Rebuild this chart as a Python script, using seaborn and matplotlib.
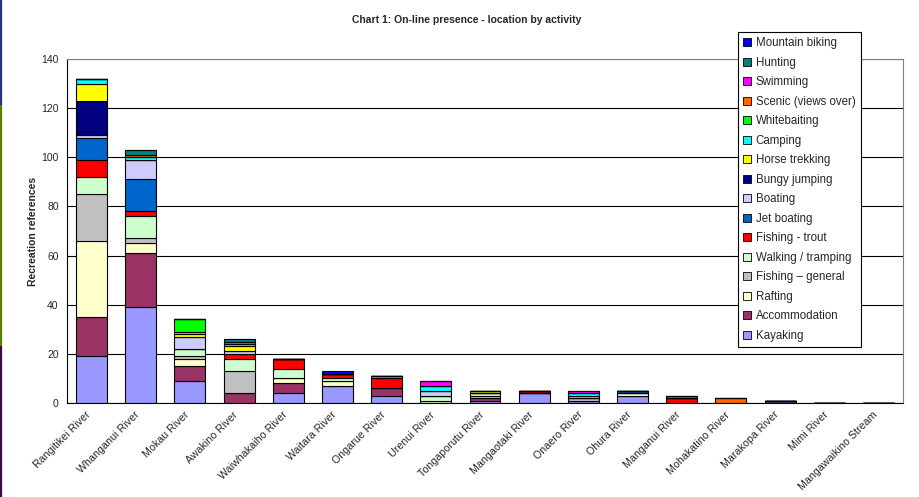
import numpy as np
import pandas as pd
import seaborn as sns
import matplotlib.pyplot as plt
import matplotlib.transforms as mtransforms
from matplotlib.patches import Patch
from matplotlib.lines import Line2D

# rivers in chart order
rivers = ["Rangitikei River", "Whanganui River", "Mokau River", "Awakino River",
          "Waiwhakaiho River", "Waitara River", "Ongarue River", "Urenui River",
          "Tongaporutu River", "Mangaotaki River", "Onaero River", "Ohura River",
          "Manganui River", "Mohakatino River", "Marakopa River", "Mimi River",
          "Mangawaikino Stream"]

# counts per activity (bottom of stack first)
kayaking        = [19, 39, 9, 0, 4, 7, 3, 0, 1, 4, 1, 3, 0, 0, 1, 0, 0]
accommodation   = [16, 22, 6, 4, 4, 0, 3, 0, 1, 0, 0, 0, 0, 0, 0, 0, 0]
rafting         = [31, 4, 3, 0, 2, 2, 0, 1, 0, 0, 0, 1, 0, 0, 0, 0, 0]
fishing_general = [19, 2, 1, 9, 0, 0, 0, 0, 1, 0, 1, 0, 0, 0, 0, 0, 0]
walking         = [7, 9, 3, 5, 4, 1, 0, 2, 1, 0, 0, 0, 0, 0, 0, 0, 0]
fishing_trout   = [7, 2, 0, 2, 4, 2, 4, 0, 0, 1, 0, 0, 2, 0, 0, 0, 0]
jet_boating     = [9, 13, 0, 0, 0, 0, 0, 0, 0, 0, 0, 1, 0, 0, 0, 0, 0]
boating         = [1, 8, 5, 1, 0, 0, 1, 2, 0, 0, 1, 0, 0, 0, 0, 0, 0]
bungy_jumping   = [14, 0, 0, 0, 0, 0, 0, 0, 0, 0, 0, 0, 0, 0, 0, 0, 0]
horse_trekking  = [7, 0, 1, 2, 0, 0, 0, 0, 1, 0, 0, 0, 0, 0, 0, 0, 0]
camping         = [2, 1, 1, 1, 0, 0, 0, 2, 0, 0, 1, 0, 0, 0, 0, 0, 0]
whitebaiting    = [0, 0, 5, 0, 0, 0, 0, 0, 0, 0, 0, 0, 0, 0, 0, 0, 0]
scenic          = [0, 1, 0, 1, 0, 0, 0, 0, 0, 0, 0, 0, 0, 2, 0, 0, 0]
swimming        = [0, 0, 0, 0, 0, 0, 0, 2, 0, 0, 1, 0, 1, 0, 0, 0, 0]
hunting         = [0, 2, 0, 1, 0, 0, 0, 0, 0, 0, 0, 0, 0, 0, 0, 0, 0]
mountain_biking = [0, 0, 0, 0, 0, 1, 0, 0, 0, 0, 0, 0, 0, 0, 0, 0, 0]

activities = ["Kayaking", "Accommodation", "Rafting", "Fishing \u2013 general",
              "Walking / tramping", "Fishing - trout", "Jet boating", "Boating",
              "Bungy jumping", "Horse trekking", "Camping", "Whitebaiting",
              "Scenic (views over)", "Swimming", "Hunting", "Mountain biking"]
series = [kayaking, accommodation, rafting, fishing_general, walking, fishing_trout,
          jet_boating, boating, bungy_jumping, horse_trekking, camping, whitebaiting,
          scenic, swimming, hunting, mountain_biking]
colors = ["#9999FF", "#993366", "#FFFFCC", "#C0C0C0", "#CCFFCC", "#FF0000",
          "#0066CC", "#CCCCFF", "#000080", "#FFFF00", "#00FFFF", "#00FF00",
          "#FF6600", "#FF00FF", "#008080", "#0000FF"]

sns.set_style("white")
plt.rcParams['font.family'] = ['Liberation Sans', 'DejaVu Sans']

fig = plt.figure(figsize=(9.2, 4.97), dpi=100)
ax = fig.add_axes([67/920, 94/497, 836/920, 344/497])

bottom = np.zeros(len(rivers))
for name, vals, col in zip(activities, series, colors):
    df = pd.DataFrame({'River': rivers, 'Count': vals})
    sns.barplot(data=df, x='River', y='Count', order=rivers, color=col,
                saturation=1, width=0.63, errorbar=None, bottom=bottom,
                edgecolor='black', linewidth=0.8, ax=ax)
    bottom = bottom + np.array(vals)

# axes styling
ax.set_xlim(-0.5, len(rivers) - 0.5)
ax.set_ylim(0, 140)
ax.set_yticks(range(0, 141, 20))
ax.set_axisbelow(True)
ax.yaxis.grid(True, color='black', linewidth=0.8)
for side in ['left', 'bottom']:
    ax.spines[side].set_color('black')
    ax.spines[side].set_linewidth(0.8)
for side in ['top', 'right']:
    ax.spines[side].set_color('#808080')
    ax.spines[side].set_linewidth(0.8)

ax.set_xticks(np.arange(-0.5, len(rivers)), minor=True)
ax.tick_params(axis='x', which='minor', length=4, width=0.8, color='black', direction='out')
ax.tick_params(axis='x', which='major', length=0, pad=4)
ax.tick_params(axis='y', length=4, width=0.8, color='black', direction='out', labelsize=7.5, pad=2)
ax.set_xticks(range(len(rivers)))
ax.set_xticklabels(rivers, rotation=45, ha='right', rotation_mode='anchor', fontsize=7.7)
# nudge the slanted labels a bit left, as in the original
shift = mtransforms.ScaledTranslation(-6/100, -1/100, fig.dpi_scale_trans)
for lab in ax.get_xticklabels():
    lab.set_transform(lab.get_transform() + shift)

ax.set_xlabel('')
ax.set_ylabel('Recreation references', fontsize=7.5, fontweight='bold')
ax.yaxis.set_label_coords(-0.035, 0.5)

fig.text(467/920, 1 - 20/497, 'Chart 1: On-line presence - location by activity',
         ha='center', va='center', fontsize=7.5, fontweight='bold')

# legend, top of stack listed first
handles = [Patch(facecolor=c, edgecolor='black', linewidth=0.6) for c in colors[::-1]]
leg = fig.legend(handles, activities[::-1], loc='upper left',
                 bbox_to_anchor=(738/920, 1 - 32/497), borderaxespad=0,
                 frameon=True, fancybox=False, edgecolor='black', framealpha=1,
                 fontsize=8.3, handlelength=0.7, handleheight=0.7, handletextpad=0.4,
                 labelspacing=0.65, borderpad=0.45)
leg.get_frame().set_linewidth(0.8)

# coloured strip at the left edge of the screenshot
for y0, y1, c in [(0, 106, '#2b3080'), (106, 347, '#5a7a00'), (347, 497, '#3a0a48')]:
    fig.add_artist(Line2D([1/920, 1/920], [1 - y0/497, 1 - y1/497],
                          transform=fig.transFigure, color=c, linewidth=1.6))

fig.savefig('out.png', dpi=100)
